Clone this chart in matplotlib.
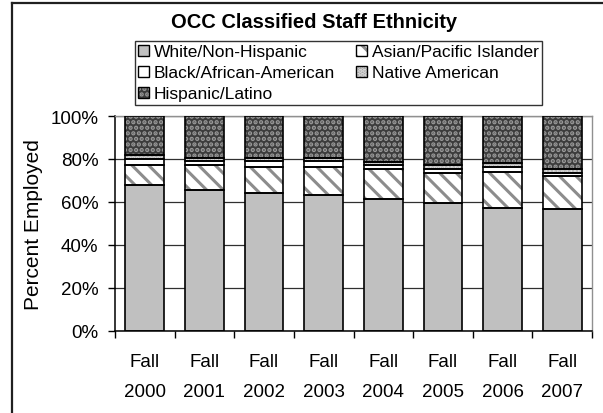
import matplotlib
matplotlib.use("Agg")
import matplotlib.pyplot as plt
from matplotlib.patches import Patch
from matplotlib.lines import Line2D
from matplotlib.legend_handler import HandlerTuple
import numpy as np

years = ["2000", "2001", "2002", "2003", "2004", "2005", "2006", "2007"]
tick_labels = ["Fall\n" + y for y in years]
white = [68.0, 65.3, 64.2, 63.3, 61.4, 59.6, 57.1, 56.8]
asian = [9.3, 12.0, 12.0, 12.9, 14.0, 14.0, 16.8, 15.2]
black = [2.5, 1.5, 2.6, 2.6, 1.6, 1.5, 2.3, 1.6]
native = [1.8, 1.6, 1.6, 1.6, 1.5, 1.9, 1.9, 1.5]
hispanic = [18.4, 19.6, 19.6, 19.6, 21.5, 23.0, 21.9, 24.9]

series = [
    ("White/Non-Hispanic", white, "#c0c0c0", None, None),
    ("Asian/Pacific Islander", asian, "#ffffff", "\\\\", "#8c8c8c"),
    ("Black/African-American", black, "#ffffff", None, None),
    ("Native American", native, "#a8a8a8", "....", "#e0e0e0"),
    ("Hispanic/Latino", hispanic, "#3c3c3c", "...", "#9a9a9a"),
]

plt.rcParams["font.family"] = ["Liberation Sans", "DejaVu Sans"]
plt.rcParams["hatch.linewidth"] = 2.2

fig = plt.figure(figsize=(6.03, 4.14), dpi=100)
ax = fig.add_axes([115 / 603, 1 - 331.5 / 414, (592 - 115) / 603, (331.5 - 117) / 414])

x = np.arange(len(years))
bottom = np.zeros(len(years))
handles = {}
for name, vals, fc, hatch, hc in series:
    vals = np.array(vals, dtype=float)
    ax.bar(x, vals, 0.65, bottom=bottom, color=fc, edgecolor="none", linewidth=0, zorder=2)
    parts = [Patch(facecolor=fc, edgecolor="none")]
    if hatch:
        ax.bar(x, vals, 0.65, bottom=bottom, fill=False, hatch=hatch, edgecolor=hc, linewidth=0, zorder=3)
        parts.append(Patch(fill=False, hatch=hatch, edgecolor=hc, linewidth=0))
    ax.bar(x, vals, 0.65, bottom=bottom, fill=False, edgecolor="black", linewidth=1.2, zorder=4)
    parts.append(Patch(fill=False, edgecolor="black", linewidth=1.0))
    handles[name] = tuple(parts)
    bottom += vals

ax.set_xlim(-0.5, len(years) - 0.5)
ax.set_ylim(0, 100)
ax.set_yticks(np.arange(0, 101, 20))
ax.set_yticklabels([f"{v}%" for v in range(0, 101, 20)])
ax.yaxis.grid(True, color="#303030", linewidth=0.9, zorder=0)
ax.set_axisbelow(True)
ax.set_xticks(x)
ax.set_xticklabels(tick_labels, linespacing=2.0)
ax.set_xticks(np.arange(-0.5, len(years), 1.0), minor=True)
ax.tick_params(axis="x", which="major", length=0, pad=16, labelsize=13.5)
ax.tick_params(axis="x", which="minor", length=5, width=1, direction="out")
ax.tick_params(axis="y", length=5, width=1, direction="out", pad=7, labelsize=13.5)
for s in ["left", "bottom"]:
    ax.spines[s].set_color("black")
    ax.spines[s].set_linewidth(1.1)
for s in ["top", "right"]:
    ax.spines[s].set_color("#909090")
    ax.spines[s].set_linewidth(1.0)
ax.set_ylabel("Percent Employed", fontsize=15, labelpad=5)

fig.text(314 / 603, 1 - 23 / 414, "OCC Classified Staff Ethnicity", ha="center", va="center",
         fontsize=14.5, fontweight="bold")

order = ["White/Non-Hispanic", "Black/African-American", "Hispanic/Latino",
         "Asian/Pacific Islander", "Native American"]
leg = fig.legend([handles[n] for n in order], order, ncol=2, loc="upper left",
                 bbox_to_anchor=(135 / 603, 1 - 42 / 414), bbox_transform=fig.transFigure,
                 fontsize=12.5, frameon=True, fancybox=False, edgecolor="black",
                 handlelength=0.6, handleheight=0.6, handletextpad=0.3,
                 labelspacing=0.34, columnspacing=1.2, borderpad=0.2, borderaxespad=0,
                 handler_map={tuple: HandlerTuple(ndivide=1, pad=0)})
leg.get_frame().set_linewidth(1.0)

# outer chart border (left and top visible)
fig.add_artist(Line2D([11.5 / 603, 11.5 / 603], [0, 1 - 3.5 / 414], color="#202020", linewidth=1.6,
                      transform=fig.transFigure))
fig.add_artist(Line2D([11.5 / 603, 1], [1 - 3.5 / 414, 1 - 3.5 / 414], color="#202020", linewidth=1.6,
                      transform=fig.transFigure))

fig.savefig("out.png", dpi=100)
